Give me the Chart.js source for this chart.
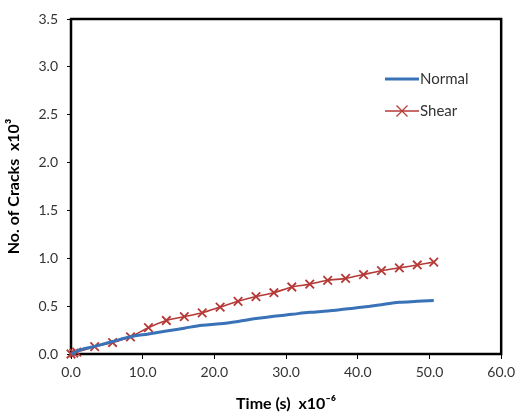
<!DOCTYPE html>
<html><head><meta charset="utf-8">
<script src="https://cdn.jsdelivr.net/npm/chart.js@4.4.0/dist/chart.umd.min.js"></script>
<style>html,body{margin:0;padding:0;background:#fff}#w{width:520px;height:417px}</style>
</head><body><div id="w"><canvas id="c" width="520" height="417"></canvas></div>
<script>
const timeX = [0, 0.4, 0.8, 3.3, 5.8, 8.3, 10.8, 13.3, 15.8, 18.3, 20.8, 23.3, 25.8, 28.3, 30.8, 33.3, 35.8, 38.3, 40.8, 43.3, 45.8, 48.3, 50.6];
const normalY = [0, 0.01, 0.03, 0.08, 0.13, 0.18, 0.21, 0.24, 0.27, 0.30, 0.315, 0.34, 0.37, 0.395, 0.415, 0.435, 0.45, 0.47, 0.49, 0.515, 0.54, 0.55, 0.56];
const shearY = [0, 0.01, 0.02, 0.076, 0.12, 0.18, 0.275, 0.35, 0.39, 0.43, 0.49, 0.55, 0.60, 0.64, 0.70, 0.73, 0.77, 0.79, 0.83, 0.87, 0.90, 0.93, 0.96];
const xTicks = [0, 10, 20, 30, 40, 50, 60];
const yTicks = [0, 0.5, 1.0, 1.5, 2.0, 2.5, 3.0, 3.5];
const seriesNames = ['Normal', 'Shear'];
const colors = ['#3A72B8', '#B53A37'];

const FONT = 'Lato, "Open Sans", sans-serif';
const borderPlugin = {
  id: 'frame',
  beforeDatasetsDraw(chart) {
    const a = chart.chartArea, ctx = chart.ctx;
    ctx.save();
    ctx.strokeStyle = '#000'; ctx.lineWidth = 2.5;
    ctx.strokeRect(a.left, a.top, a.right - a.left, a.bottom - a.top);
    ctx.restore();
  },
  afterDatasetsDraw(chart) {
    const ctx = chart.ctx;
    ctx.save();
    const lx = 385, items = [{y: 79}, {y: 111}];
    chart.data.datasets.forEach((ds, i) => {
      const y = items[i].y;
      ctx.strokeStyle = ds.borderColor;
      ctx.lineWidth = i === 0 ? 3 : 1.5;
      ctx.beginPath(); ctx.moveTo(lx, y); ctx.lineTo(lx + 34, y); ctx.stroke();
      if (i === 1) {
        const cx = lx + 17, r = 5.5;
        ctx.lineWidth = 1.2;
        ctx.beginPath(); ctx.moveTo(cx - r, y - r); ctx.lineTo(cx + r, y + r);
        ctx.moveTo(cx + r, y - r); ctx.lineTo(cx - r, y + r); ctx.stroke();
      }
      ctx.fillStyle = '#333'; ctx.font = '15px ' + FONT;
      ctx.textBaseline = 'middle'; ctx.textAlign = 'left';
      ctx.fillText(ds.label, lx + 35, y);
    });
    ctx.restore();
  }
};

new Chart(document.getElementById('c'), {
  type: 'line',
  data: {
    datasets: [
      { label: seriesNames[0], data: timeX.map((x, i) => ({x, y: normalY[i]})), borderColor: colors[0], backgroundColor: colors[0], borderWidth: 3, pointRadius: 0, cubicInterpolationMode: 'monotone', clip: false },
      { label: seriesNames[1], data: timeX.map((x, i) => ({x, y: shearY[i]})), borderColor: colors[1], backgroundColor: colors[1], borderWidth: 1.6, pointStyle: 'crossRot', pointRadius: 6, pointBorderWidth: 1.8, tension: 0.2, clip: false }
    ]
  },
  options: {
    responsive: false, animation: false, devicePixelRatio: 1,
    layout: { padding: { left: 0, right: 15, top: 19, bottom: 0 } },
    plugins: { legend: { display: false }, tooltip: { enabled: false } },
    scales: {
      x: {
        type: 'linear', min: 0, max: 60,
        afterBuildTicks(s) { s.ticks = xTicks.map(v => ({value: v})); },
        afterFit(s) { s.height = 63; },
        border: { display: false },
        grid: { drawOnChartArea: false, color: '#000', tickLength: 5, lineWidth: 1 },
        ticks: { color: '#333', font: { family: FONT, size: 14 }, padding: 5, maxRotation: 0, callback: v => v.toFixed(1) },
        title: { display: true, text: 'Time (s)  x10\u207B\u2076', color: '#000', font: { family: FONT, size: 16, weight: 'bold' }, padding: { top: 6 } }
      },
      y: {
        min: 0, max: 3.5,
        afterBuildTicks(s) { s.ticks = yTicks.map(v => ({value: v})); },
        afterFit(s) { s.width = 71; },
        border: { display: false },
        grid: { drawOnChartArea: false, color: '#000', tickLength: 4, lineWidth: 1 },
        ticks: { color: '#333', font: { family: FONT, size: 14 }, padding: 9, callback: v => v.toFixed(1) },
        title: { display: true, text: 'No. of Cracks  x10\u00B3', color: '#000', font: { family: FONT, size: 16, weight: 'bold' }, padding: { bottom: 2 } }
      }
    }
  },
  plugins: [borderPlugin]
});
</script></body></html>
